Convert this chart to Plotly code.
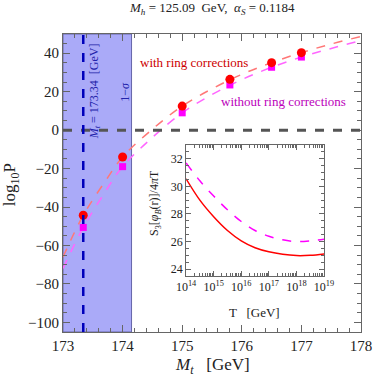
import plotly.graph_objects as go

# main panel: log10 P vs top mass
mt_points = [173.34, 174.0, 175.0, 175.8, 176.5, 177.0]
logp_ring = [-44.3, -14.0, 12.5, 26.4, 35.1, 40.3]
logp_noring = [-50.6, -19.0, 9.0, 23.5, 32.7, 38.0]

mt_curve = [173.0, 173.34, 173.7, 174.0, 174.5, 175.0, 175.5, 176.0, 176.5, 177.0, 177.5, 178.0]
curve_ring = [-66.0, -44.3, -27.0, -14.0, 0.5, 12.5, 21.5, 29.0, 35.1, 40.3, 44.8, 48.7]
curve_noring = [-72.0, -50.6, -32.5, -19.0, -3.8, 9.0, 18.5, 26.3, 32.7, 38.0, 42.5, 46.6]

mt_central = 173.34
mt_upper = 174.15

# inset: S3/4piT vs T
T_vals = [1e14, 3.16e14, 1e15, 3.16e15, 1e16, 3.16e16, 1e17, 3.16e17, 1e18, 3.16e18, 1e19]
s3_ring = [30.55, 29.0, 27.8, 26.8, 26.05, 25.55, 25.25, 25.07, 24.98, 25.0, 25.1]
s3_noring = [31.7, 30.4, 29.3, 28.3, 27.45, 26.8, 26.38, 26.12, 26.0, 26.05, 26.17]

FONT = "Liberation Serif"
RED = "#FF0000"
MAG = "#FF00FF"

fig = go.Figure()

fig.add_vrect(x0=173.0, x1=mt_upper, fillcolor="#AAAAF8", opacity=1, layer="below",
              line=dict(color="#6666AA", width=1))

fig.add_trace(go.Scatter(x=mt_curve, y=curve_ring, mode="lines", line_shape="spline",
                         line=dict(color="#FF7777", width=1.5, dash="dash")))
fig.add_trace(go.Scatter(x=mt_curve, y=curve_noring, mode="lines", line_shape="spline",
                         line=dict(color="#FF66FF", width=1.5, dash="dash")))

fig.add_hline(y=0, line=dict(color="#555555", width=3, dash="dash"))
fig.add_vline(x=mt_central, line=dict(color="#0000BB", width=2.5, dash="dash"))

fig.add_trace(go.Scatter(x=mt_points, y=logp_noring, mode="markers",
                         marker=dict(symbol="square", color=MAG, size=7)))
fig.add_trace(go.Scatter(x=mt_points, y=logp_ring, mode="markers",
                         marker=dict(symbol="circle", color=RED, size=9)))

# inset
fig.add_trace(go.Scatter(x=T_vals, y=s3_ring, mode="lines",
                         line_shape="spline", line=dict(color=RED, width=1.5),
                         xaxis="x2", yaxis="y2"))
fig.add_trace(go.Scatter(x=T_vals, y=s3_noring, mode="lines",
                         line_shape="spline", line=dict(color=MAG, width=1.5, dash="dash"),
                         xaxis="x2", yaxis="y2"))

axis_common = dict(showgrid=False, zeroline=False, showline=True, linecolor="#666666",
                   linewidth=1, mirror="allticks", ticks="inside", tickcolor="#666666",
                   automargin=False)

fig.update_layout(
    width=374, height=377,
    margin=dict(l=63, r=13, t=34, b=45),
    plot_bgcolor="white", paper_bgcolor="white",
    showlegend=False,
    font=dict(family=FONT, color="#222222", size=14),
    xaxis=dict(range=[173, 178], dtick=1, ticklen=7,
               minor=dict(ticks="inside", dtick=0.2, ticklen=4, tickcolor="#666666"),
               tickfont=dict(size=15), **axis_common),
    yaxis=dict(range=[-105, 50], dtick=20, ticklen=7,
               minor=dict(ticks="inside", dtick=5, ticklen=4, tickcolor="#666666"),
               tickfont=dict(size=15), **axis_common),
    xaxis2=dict(domain=[0.413, 0.876], anchor="y2", type="log", range=[14, 19],
                tickvals=[1e14, 1e15, 1e16, 1e17, 1e18, 1e19],
                ticktext=["10<sup>%d</sup>" % n for n in range(14, 20)],
                ticklen=5, tickfont=dict(size=12),
                minor=dict(ticks="inside", ticklen=3, tickcolor="#666666", dtick="D1"),
                **axis_common),
    yaxis2=dict(domain=[0.188, 0.6275], anchor="x2", range=[23.5, 33], dtick=2,
                ticklen=5, tickfont=dict(size=12),
                minor=dict(ticks="inside", dtick=0.5, ticklen=3, tickcolor="#666666"),
                **axis_common),
)


def label(text, x, y, size, color="#222222", angle=0, ref="paper"):
    return dict(text=text, x=x, y=y, xref=ref if ref == "paper" else "x",
                yref=ref if ref == "paper" else "y", textangle=angle,
                xanchor="center", yanchor="middle", showarrow=False,
                font=dict(size=size, color=color))


ann = [
    label("<i>M<sub>h</sub></i> = 125.09  GeV,  <i>α<sub>S</sub></i> = 0.1184", 0.5, 1.087, 13),
    label("<i>M<sub>t</sub></i>   [GeV]", 0.503, -0.113, 17),
    label("log<sub>10</sub>P", -0.174, 0.493, 17, angle=-90),
    label("with ring corrections", 175.2, 35, 13, "#CC0000", ref="data"),
    label("without ring corrections", 176.7, 15, 13, "#BB00BB", ref="data"),
    label("<i>M<sub>t</sub></i> = 173.34  [GeV]", 173.53, 20, 12, "#2222AA", -90, "data"),
    label("1−<i>σ</i>", 174.04, 20, 12, "#2222AA", -90, "data"),
    label("S<sub>3</sub>[<i>φ<sub>B</sub></i>(r)]/4<i>π</i>T", 0.309, 0.433, 12, angle=-90),
    label("T   [GeV]", 0.644, 0.064, 13),
]
fig.update_layout(annotations=ann)

# drop the page's default body margin so the figure sits at the window's corner
fig.write_html("out.html", config={"displayModeBar": False},
               post_script="document.body.style.margin='0';")
